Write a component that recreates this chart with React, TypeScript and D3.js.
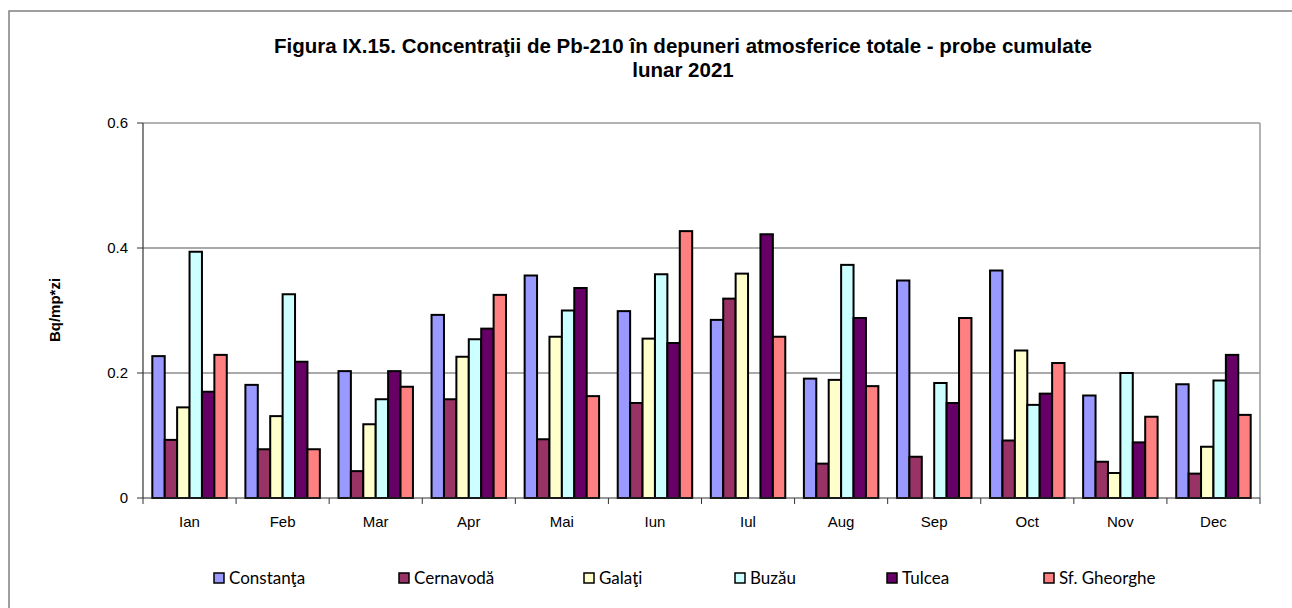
import React from "react";
import * as d3 from "d3";

const months = ["Ian", "Feb", "Mar", "Apr", "Mai", "Iun", "Iul", "Aug", "Sep", "Oct", "Nov", "Dec"];
const seriesNames = ["Constanţa", "Cernavodă", "Galaţi", "Buzău", "Tulcea", "Sf. Gheorghe"];
const seriesColors = ["#9999FF", "#993366", "#FFFFCC", "#CCFFFF", "#660066", "#FF8080"];

const constanta = [0.227, 0.181, 0.203, 0.293, 0.356, 0.299, 0.285, 0.191, 0.348, 0.364, 0.164, 0.182];
const cernavoda = [0.093, 0.078, 0.043, 0.158, 0.094, 0.152, 0.319, 0.055, 0.066, 0.092, 0.058, 0.039];
const galati = [0.145, 0.131, 0.118, 0.226, 0.258, 0.255, 0.359, 0.189, null, 0.236, 0.040, 0.082];
const buzau = [0.394, 0.326, 0.158, 0.254, 0.300, 0.358, null, 0.373, 0.184, 0.149, 0.200, 0.188];
const tulcea = [0.170, 0.218, 0.203, 0.271, 0.336, 0.248, 0.422, 0.288, 0.152, 0.167, 0.089, 0.229];
const sfGheorghe = [0.229, 0.078, 0.178, 0.325, 0.163, 0.427, 0.258, 0.179, 0.288, 0.216, 0.130, 0.133];

const yTicks = [0, 0.2, 0.4, 0.6];
const yTickLabels = ["0", "0.2", "0.4", "0.6"];

const titleLines = [
  "Figura IX.15. Concentraţii de Pb-210 în depuneri atmosferice totale - probe cumulate",
  "lunar 2021",
];
const yAxisTitle = "Bq/mp*zi";

const allSeries = [constanta, cernavoda, galati, buzau, tulcea, sfGheorghe];

export default function App() {
  const W = 1292, H = 608;
  const left = 143, right = 1260, top = 123, bottom = 498;

  const x = d3.scaleBand<string>().domain(months).range([left, right]).paddingInner(0.2).paddingOuter(0.1);
  const xs = d3.scaleBand<string>().domain(seriesNames).range([0, x.bandwidth()]);
  const y = d3.scaleLinear().domain([0, 0.6]).range([bottom, top]);
  const step = x.step();

  const legendX = [213, 398, 583, 734, 886, 1043];

  return (
    <svg width={W} height={H} style={{ position: "absolute", left: 0, top: 0, background: "#fff" }}>
      <rect x={0} y={0} width={W} height={H} fill="#fff" />
      {/* outer chart border */}
      <rect x={9} y={11} width={W + 20} height={H + 20} fill="none" stroke="#808080" strokeWidth={1.5} />

      {/* title */}
      <g fontFamily="'Liberation Sans', Arial, sans-serif" fontWeight="bold" fontSize={20.5} textAnchor="middle" fill="#000">
        {titleLines.map((t, i) => (
          <text key={i} x={683} y={53 + i * 24}>{t}</text>
        ))}
      </g>

      {/* gridlines */}
      {yTicks.filter((t) => t > 0 && t < 0.6).map((t) => (
        <line key={t} x1={left} x2={right} y1={y(t)} y2={y(t)} stroke="#555" strokeWidth={1} />
      ))}
      {/* plot border top/right */}
      <line x1={left} x2={right} y1={y(0.6)} y2={y(0.6)} stroke="#999" strokeWidth={1.5} />
      <line x1={right} x2={right} y1={y(0.6)} y2={bottom} stroke="#999" strokeWidth={1.5} />

      {/* bars */}
      {months.map((m, mi) => (
        <g key={m}>
          {allSeries.map((s, si) => {
            const v = s[mi];
            if (v == null) return null;
            const bx = (x(m) as number) + (xs(seriesNames[si]) as number);
            return (
              <rect
                key={si}
                x={bx}
                y={y(v)}
                width={xs.bandwidth()}
                height={bottom - y(v)}
                fill={seriesColors[si]}
                stroke="#000"
                strokeWidth={2}
              />
            );
          })}
        </g>
      ))}

      {/* axes */}
      <line x1={left} x2={left} y1={top} y2={bottom} stroke="#333" strokeWidth={1.2} />
      <line x1={left} x2={right} y1={bottom} y2={bottom} stroke="#333" strokeWidth={1.2} />
      {yTicks.map((t, i) => (
        <g key={t}>
          <line x1={left - 6} x2={left} y1={y(t)} y2={y(t)} stroke="#333" strokeWidth={1} />
          <text
            x={128}
            y={y(t)}
            dy="0.35em"
            textAnchor="end"
            fontFamily="'Liberation Sans', Arial, sans-serif"
            fontSize={15}
            fill="#000"
          >
            {yTickLabels[i]}
          </text>
        </g>
      ))}
      {d3.range(months.length + 1).map((i) => (
        <line key={i} x1={left + i * step} x2={left + i * step} y1={bottom} y2={bottom + 6} stroke="#333" strokeWidth={1} />
      ))}
      {months.map((m) => (
        <text
          key={m}
          x={(x(m) as number) + x.bandwidth() / 2}
          y={527}
          textAnchor="middle"
          fontFamily="'Liberation Sans', Arial, sans-serif"
          fontSize={15}
          fill="#000"
        >
          {m}
        </text>
      ))}

      {/* y axis title */}
      <text
        transform={`translate(60, 310) rotate(-90)`}
        textAnchor="middle"
        fontFamily="'Liberation Sans', Arial, sans-serif"
        fontWeight="bold"
        fontSize={15}
        fill="#000"
      >
        {yAxisTitle}
      </text>

      {/* legend */}
      {seriesNames.map((n, i) => (
        <g key={n}>
          <rect x={legendX[i] + 1} y={573} width={10} height={10} fill={seriesColors[i]} stroke="#000" strokeWidth={1.5} />
          <text
            x={legendX[i] + 16}
            y={584}
            fontFamily="Lato, 'Open Sans', sans-serif"
            fontSize={17}
            fill="#000"
          >
            {n}
          </text>
        </g>
      ))}
    </svg>
  );
}
